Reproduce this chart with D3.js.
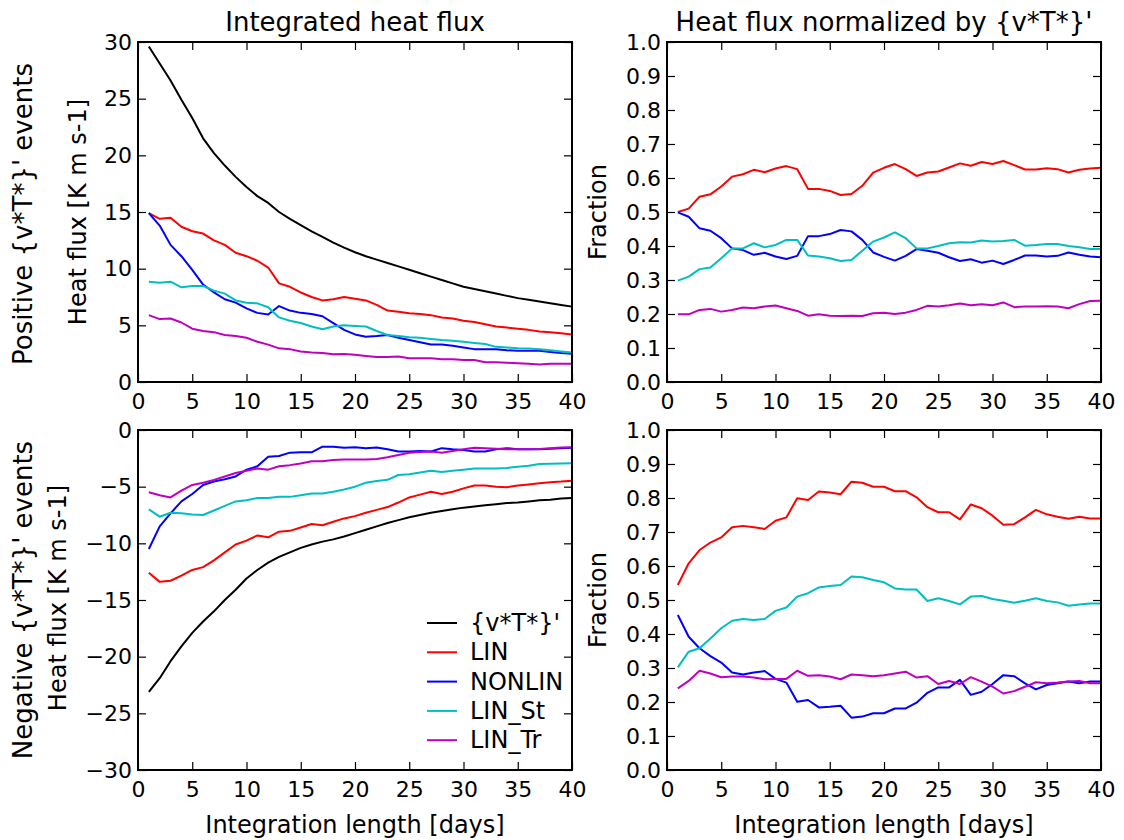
<!DOCTYPE html>
<html>
<head>
<meta charset="utf-8">
<script src="https://cdn.jsdelivr.net/npm/d3@7"></script>
<style>
  body { margin: 0; background: #fff; }
  text { font-family: "DejaVu Sans", sans-serif; fill: #000; }
</style>
</head>
<body>
<div id="chart"></div>
<script>
// integration length (days)
const days = [
  1, 2, 3, 4, 5, 6, 7, 8, 9, 10,
  11, 12, 13, 14, 15, 16, 17, 18, 19, 20,
  21, 22, 23, 24, 25, 26, 27, 28, 29, 30,
  31, 32, 33, 34, 35, 36, 37, 38, 39, 40
];
const seriesNames = ["{v*T*}'", "LIN", "NONLIN", "LIN_St", "LIN_Tr"];

const xTicks = [0, 5, 10, 15, 20, 25, 30, 35, 40];
const posTicks = [0, 5, 10, 15, 20, 25, 30];
const negTicks = [-30, -25, -20, -15, -10, -5, 0];
const fracTicks = [0, 0.1, 0.2, 0.3, 0.4, 0.5, 0.6, 0.7, 0.8, 0.9, 1.0];

// positive events, integrated heat flux [K m s-1]
const posTotal = [
  29.6, 28.1, 26.6, 24.9, 23.3, 21.5, 20.2, 19.1, 18.1, 17.2,
  16.4, 15.8, 15.0, 14.4, 13.85, 13.3, 12.8, 12.3, 11.85, 11.45,
  11.1, 10.8, 10.5, 10.2, 9.9, 9.6, 9.3, 9.0, 8.7, 8.4,
  8.2, 8.0, 7.8, 7.6, 7.4, 7.25, 7.1, 6.95, 6.8, 6.65
];
const posLin = [
  14.9, 14.4, 14.5, 13.7, 13.3, 13.1, 12.5, 12.1, 11.4, 11.1,
  10.7, 10.1, 8.7, 8.4, 7.9, 7.5, 7.2, 7.3, 7.5, 7.35,
  7.2, 6.8, 6.3, 6.2, 6.06, 6.0, 5.9, 5.7, 5.6, 5.4,
  5.3, 5.1, 4.9, 4.8, 4.7, 4.6, 4.45, 4.4, 4.3, 4.2
];
const posNonlin = [
  14.9, 13.8, 12.1, 11.1, 9.9, 8.6, 7.9, 7.3, 7.0, 6.5,
  6.1, 5.95, 6.7, 6.3, 6.1, 6.0, 5.8, 5.2, 4.6, 4.2,
  4.0, 4.05, 4.15, 3.9, 3.7, 3.5, 3.3, 3.3, 3.2, 3.05,
  2.9, 2.9, 2.9, 2.8, 2.75, 2.75, 2.75, 2.65, 2.55, 2.5
];
const posLinSt = [
  8.85, 8.76, 8.85, 8.35, 8.47, 8.47, 8.06, 7.8, 7.2, 7.0,
  6.94, 6.6, 5.7, 5.4, 5.2, 4.9, 4.65, 4.9, 5.0, 4.95,
  4.9, 4.5, 4.15, 4.05, 3.95, 3.9, 3.8, 3.7, 3.65, 3.55,
  3.45, 3.35, 3.1, 3.05, 2.97, 2.95, 2.9, 2.8, 2.7, 2.6
];
const posLinTr = [
  5.9, 5.55, 5.6, 5.25, 4.7, 4.5, 4.4, 4.15, 4.06, 3.9,
  3.55, 3.3, 2.97, 2.9, 2.7, 2.6, 2.56, 2.45, 2.47, 2.4,
  2.3, 2.2, 2.2, 2.25, 2.1, 2.1, 2.1, 2.0, 2.0, 1.95,
  1.95, 1.75, 1.75, 1.7, 1.65, 1.6, 1.55, 1.6, 1.6, 1.6
];

// positive events, fraction of {v*T*}'
const fracPosTotal = [];
const fracPosLin = [
  0.50, 0.51, 0.545, 0.552, 0.575, 0.604, 0.611, 0.624, 0.617, 0.628,
  0.635, 0.626, 0.568, 0.568, 0.562, 0.55, 0.553, 0.577, 0.616, 0.63,
  0.641, 0.626, 0.606, 0.616, 0.619, 0.631, 0.643, 0.636, 0.647, 0.641,
  0.65, 0.638, 0.625, 0.625, 0.629, 0.626, 0.616, 0.624, 0.628, 0.63
];
const fracPosNonlin = [
  0.499, 0.486, 0.452, 0.445, 0.423, 0.393, 0.388, 0.374, 0.38, 0.369,
  0.362, 0.371, 0.429, 0.429, 0.435, 0.447, 0.443, 0.418, 0.381, 0.368,
  0.357, 0.371, 0.391, 0.386, 0.38, 0.367, 0.356, 0.361, 0.351, 0.357,
  0.347, 0.359, 0.372, 0.372, 0.369, 0.371, 0.381, 0.374, 0.369, 0.367
];
const fracPosLinSt = [
  0.298, 0.31, 0.332, 0.337, 0.364, 0.393, 0.393, 0.408, 0.396, 0.403,
  0.418, 0.418, 0.372, 0.369, 0.364, 0.356, 0.359, 0.386, 0.413, 0.425,
  0.44, 0.423, 0.393, 0.393, 0.40, 0.408, 0.411, 0.41, 0.416, 0.413,
  0.415, 0.418, 0.401, 0.403, 0.406, 0.406, 0.40, 0.396, 0.391, 0.391
];
const fracPosLinTr = [
  0.199, 0.199, 0.212, 0.215, 0.207, 0.212, 0.219, 0.217, 0.222, 0.225,
  0.217, 0.209, 0.195, 0.199, 0.195, 0.194, 0.195, 0.194, 0.202, 0.204,
  0.2, 0.204, 0.212, 0.224, 0.222, 0.226, 0.231, 0.226, 0.229, 0.226,
  0.234, 0.22, 0.222, 0.222, 0.223, 0.222, 0.217, 0.229, 0.238, 0.239
];

// negative events, integrated heat flux [K m s-1]
const negTotal = [
  -23.1, -21.9, -20.4, -19.1, -17.9, -16.9, -16.0, -15.0, -14.1, -13.1,
  -12.35, -11.7, -11.2, -10.8, -10.4, -10.1, -9.85, -9.65, -9.4, -9.1,
  -8.8, -8.5, -8.2, -7.95, -7.7, -7.5, -7.3, -7.15, -7.0, -6.85,
  -6.75, -6.65, -6.55, -6.45, -6.4, -6.3, -6.2, -6.15, -6.05, -6.0
];
const negLin = [
  -12.6, -13.4, -13.3, -12.85, -12.35, -12.1, -11.5, -10.8, -10.1, -9.76,
  -9.3, -9.47, -8.97, -8.9, -8.6, -8.3, -8.4, -8.1, -7.8, -7.6,
  -7.3, -7.05, -6.8, -6.4, -5.95, -5.7, -5.45, -5.65, -5.45, -5.15,
  -4.9, -4.9, -5.0, -5.05, -4.9, -4.8, -4.7, -4.6, -4.55, -4.47
];
const negNonlin = [
  -10.5, -8.5, -7.35, -6.3, -5.65, -4.85, -4.55, -4.35, -4.1, -3.5,
  -3.2, -2.35, -2.3, -2.0, -1.97, -1.97, -1.47, -1.47, -1.56, -1.53,
  -1.6, -1.55, -1.7, -1.9, -1.9, -1.85, -1.9, -1.6, -1.7, -1.76,
  -1.9, -1.9, -1.7, -1.6, -1.7, -1.7, -1.7, -1.65, -1.6, -1.56
];
const negLinSt = [
  -7.0, -7.65, -7.3, -7.35, -7.45, -7.5, -7.1, -6.7, -6.3, -6.2,
  -6.0, -6.0, -5.9, -5.9, -5.75, -5.6, -5.6, -5.45, -5.25, -5.0,
  -4.65, -4.5, -4.4, -3.97, -3.9, -3.75, -3.6, -3.7, -3.6, -3.5,
  -3.4, -3.4, -3.4, -3.35, -3.25, -3.15, -3.0, -2.98, -2.96, -2.94
];
const negLinTr = [
  -5.5, -5.75, -5.95, -5.35, -4.85, -4.65, -4.4, -4.1, -3.8, -3.6,
  -3.4, -3.5, -3.2, -3.1, -2.95, -2.75, -2.75, -2.65, -2.6, -2.6,
  -2.6, -2.55, -2.4, -2.2, -2.0, -1.95, -1.9, -2.0, -1.85, -1.7,
  -1.56, -1.6, -1.65, -1.7, -1.7, -1.7, -1.68, -1.6, -1.55, -1.53
];

// negative events, fraction of {v*T*}'
const fracNegTotal = [];
const fracNegLin = [
  0.544, 0.608, 0.647, 0.669, 0.684, 0.714, 0.718, 0.714, 0.709, 0.733,
  0.743, 0.799, 0.794, 0.819, 0.816, 0.811, 0.848, 0.845, 0.833, 0.833,
  0.82, 0.82, 0.802, 0.773, 0.758, 0.758, 0.737, 0.781, 0.77, 0.748,
  0.721, 0.723, 0.743, 0.765, 0.752, 0.745, 0.739, 0.745, 0.74, 0.74
];
const fracNegNonlin = [
  0.456, 0.392, 0.358, 0.335, 0.316, 0.287, 0.281, 0.287, 0.291, 0.268,
  0.257, 0.201, 0.206, 0.184, 0.186, 0.189, 0.154, 0.157, 0.167, 0.167,
  0.181, 0.181, 0.198, 0.227, 0.243, 0.243, 0.265, 0.221, 0.23, 0.253,
  0.279, 0.276, 0.255, 0.237, 0.25, 0.255, 0.26, 0.255, 0.26, 0.26
];
const fracNegLinSt = [
  0.302, 0.348, 0.358, 0.387, 0.417, 0.439, 0.444, 0.441, 0.444, 0.468,
  0.478, 0.51, 0.52, 0.537, 0.541, 0.544, 0.569, 0.567, 0.559, 0.552,
  0.534, 0.531, 0.531, 0.497, 0.505, 0.497, 0.487, 0.51, 0.512, 0.503,
  0.498, 0.492, 0.498, 0.505, 0.497, 0.493, 0.483, 0.487, 0.49, 0.49
];
const fracNegLinTr = [
  0.24, 0.262, 0.292, 0.284, 0.273, 0.275, 0.275, 0.272, 0.267, 0.268,
  0.268, 0.292, 0.277, 0.279, 0.275, 0.267, 0.281, 0.279, 0.276, 0.279,
  0.284, 0.289, 0.272, 0.276, 0.253, 0.262, 0.253, 0.273, 0.26, 0.245,
  0.225, 0.232, 0.245, 0.258, 0.255, 0.257, 0.26, 0.262, 0.255, 0.255
];

drawFigure();

function drawFigure() {
  const width = 1124;
  const height = 840;
  const colors = ["#000000", "#ff0000", "#0000ff", "#00bfbf", "#bf00bf"];

  const svg = d3.select("#chart").append("svg")
    .attr("width", width)
    .attr("height", height);

  // panel layout
  const left = [138, 667];
  const top = [42, 430];
  const pw = 434;
  const ph = 340;

  const panels = [
    { col: 0, row: 0, domain: [0, 30], ticks: posTicks, fmt: d3.format("d"),
      series: [posTotal, posLin, posNonlin, posLinSt, posLinTr],
      title: "Integrated heat flux" },
    { col: 1, row: 0, domain: [0, 1], ticks: fracTicks, fmt: d3.format(".1f"),
      series: [fracPosTotal, fracPosLin, fracPosNonlin, fracPosLinSt, fracPosLinTr],
      title: "Heat flux normalized by {v*T*}'" },
    { col: 0, row: 1, domain: [-30, 0], ticks: negTicks, fmt: d3.format("d"),
      series: [negTotal, negLin, negNonlin, negLinSt, negLinTr], legend: true },
    { col: 1, row: 1, domain: [0, 1], ticks: fracTicks, fmt: d3.format(".1f"),
      series: [fracNegTotal, fracNegLin, fracNegNonlin, fracNegLinSt, fracNegLinTr] }
  ];

  panels.forEach(p => {
    const x0 = left[p.col];
    const y0 = top[p.row];
    const g = svg.append("g").attr("transform", "translate(" + x0 + "," + y0 + ")");

    const x = d3.scaleLinear().domain([0, 40]).range([0, pw]);
    const y = d3.scaleLinear().domain(p.domain).range([ph, 0]);

    // lines
    const line = d3.line()
      .x((d, i) => x(days[i]))
      .y(d => y(d));
    p.series.forEach((s, i) => {
      if (!s.length) return;
      g.append("path")
        .attr("fill", "none")
        .attr("stroke", colors[i])
        .attr("stroke-width", 2)
        .attr("stroke-linejoin", "round")
        .attr("d", line(s));
    });

    // inward ticks on all four sides
    const styleAxis = sel => {
      sel.select(".domain").remove();
      sel.selectAll(".tick line").attr("stroke", "#000").attr("stroke-width", 1.2);
      sel.selectAll(".tick text").attr("font-size", 22).attr("font-family", "DejaVu Sans");
    };
    g.append("g").attr("transform", "translate(0," + ph + ")")
      .call(d3.axisBottom(x).tickValues(xTicks).tickSize(-8).tickPadding(11).tickFormat(d3.format("d")))
      .call(styleAxis);
    g.append("g")
      .call(d3.axisTop(x).tickValues(xTicks).tickSize(-8).tickFormat(""))
      .call(styleAxis);
    g.append("g")
      .call(d3.axisLeft(y).tickValues(p.ticks).tickSize(-8).tickPadding(6).tickFormat(p.fmt))
      .call(styleAxis);
    g.append("g").attr("transform", "translate(" + pw + ",0)")
      .call(d3.axisRight(y).tickValues(p.ticks).tickSize(-8).tickFormat(""))
      .call(styleAxis);

    // frame
    g.append("rect")
      .attr("width", pw).attr("height", ph)
      .attr("fill", "none").attr("stroke", "#000").attr("stroke-width", 2);

    if (p.title) {
      svg.append("text")
        .attr("x", x0 + pw / 2).attr("y", 31)
        .attr("text-anchor", "middle")
        .attr("font-size", 26)
        .text(p.title);
    }

    if (p.legend) {
      const lg = g.append("g").attr("transform", "translate(289,193)");
      seriesNames.forEach((name, i) => {
        const ly = i * 29.3;
        lg.append("line")
          .attr("x1", 0).attr("x2", 30).attr("y1", ly).attr("y2", ly)
          .attr("stroke", colors[i]).attr("stroke-width", 2);
        lg.append("text")
          .attr("x", 43).attr("y", ly)
          .attr("dominant-baseline", "central")
          .attr("font-size", 24)
          .text(name);
      });
    }
  });

  // axis labels
  const vlabel = (txt, cx, cy, size) => {
    svg.append("text")
      .attr("transform", "translate(" + cx + "," + cy + ") rotate(-90)")
      .attr("text-anchor", "middle")
      .attr("dominant-baseline", "central")
      .attr("font-size", size)
      .text(txt);
  };
  vlabel("Positive {v*T*}' events", 23, 214, 26);
  vlabel("Heat flux [K m s-1]", 78, 212, 24);
  vlabel("Negative {v*T*}' events", 23, 600, 26);
  vlabel("Heat flux [K m s-1]", 58, 598, 24);
  vlabel("Fraction", 598, 212, 24);
  vlabel("Fraction", 598, 600, 24);

  [left[0], left[1]].forEach(lx => {
    svg.append("text")
      .attr("x", lx + pw / 2).attr("y", 825)
      .attr("text-anchor", "middle")
      .attr("dominant-baseline", "central")
      .attr("font-size", 24)
      .text("Integration length [days]");
  });
}
</script>
</body>
</html>
